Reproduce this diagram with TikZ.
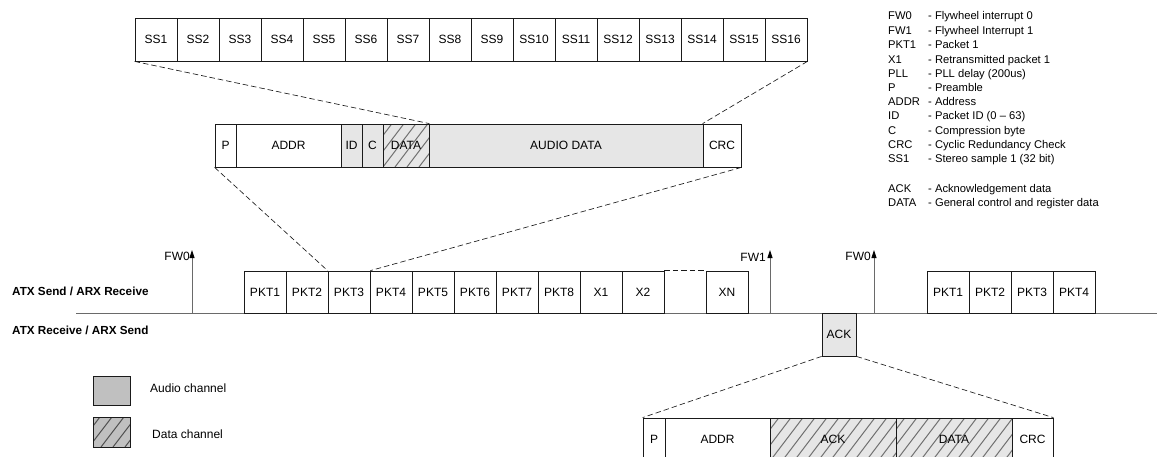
\documentclass[tikz,border=0pt]{standalone}
\usepackage{fontspec}
\setmainfont{Liberation Sans}
\usetikzlibrary{arrows.meta}
\definecolor{audiofill}{HTML}{E6E6E6}
\definecolor{legaudio}{HTML}{C0C0C0}
\definecolor{hatchcol}{HTML}{707070}
\definecolor{leghatch}{HTML}{505050}
\definecolor{linecol}{HTML}{1A1A1A}
\definecolor{basecol}{HTML}{6A6A6A}
\newcommand{\boxfs}{\fontsize{12}{14}\selectfont}
\newcommand{\legfs}{\fontsize{11.2}{13}\selectfont}
\newcommand{\rowfs}{\fontsize{11.7}{14}\selectfont\bfseries}
\begin{document}
\begin{tikzpicture}[x=1pt,y=-1pt,
  cell/.style={draw=linecol, line width=0.8pt, inner sep=0pt, minimum height=43pt, font=\boxfs},
  pkt/.style={cell, minimum width=42pt, minimum height=42pt},
  audio/.style={fill=audiofill},
  hatched/.style={fill=audiofill, path picture={
      \foreach \k in {0,...,22}{
        \draw[hatchcol, line width=1pt]
          ([xshift=\k*12pt-60pt]path picture bounding box.south west) -- ++(38,-50);}}},
  leghatched/.style={fill=legaudio, path picture={
      \foreach \k in {0,...,8}{
        \draw[leghatch, line width=1pt]
          ([xshift=\k*12pt-40pt]path picture bounding box.south west) -- ++(26,-34);}}},
  conn/.style={draw=linecol, line width=0.65pt, dash pattern=on 5.5pt off 3pt},
  fwarrow/.style={draw=basecol, line width=0.9pt, -{Triangle[length=8pt,width=5pt,color=black]}},
  legtxt/.style={anchor=base west, inner sep=0pt, font=\legfs},
  lbl/.style={inner sep=0pt, font=\boxfs},
]
\clip (0,0) rectangle (1157,456);
\fill[white] (0,0) rectangle (1157,456);

% ---- stereo samples row
\foreach \i in {1,...,16}{
  \node[cell, minimum width=42pt] (ss\i) at ({135+42*(\i-1)+21},39.5) {SS\i};
}

% ---- audio packet frame
\node[cell, minimum width=21pt] (p) at (225.5,145.5) {P};
\node[cell, minimum width=105pt] (addr) at (288.5,145.5) {ADDR};
\node[cell, audio, minimum width=21pt] (id) at (351.5,145.5) {ID};
\node[cell, audio, minimum width=21pt] (c) at (372.5,145.5) {C};
\node[cell, hatched, minimum width=46pt] (data) at (406,145.5) {DATA};
\node[cell, audio, minimum width=274pt] (audiodata) at (566,145.5) {AUDIO DATA};
\node[cell, minimum width=38pt] (crc) at (722,145.5) {CRC};

% ---- timeline
\coordinate (tlstart) at (76,313);
\coordinate (tlend) at (1157,313);
\draw[basecol, line width=0.9pt] (tlstart) -- (tlend);

\foreach \i in {1,...,8}{
  \node[pkt] (pkt\i) at ({244+42*(\i-1)+21},292) {PKT\i};
}
\node[pkt] (x1) at (601,292) {X1};
\node[pkt] (x2) at (643,292) {X2};
\node[pkt] (xn) at (727,292) {XN};
\draw[conn, line width=0.9pt] (x2.north east) -- (xn.north west);

\foreach \i in {1,...,4}{
  \node[pkt] (rpkt\i) at ({927+42*(\i-1)+21},292) {PKT\i};
}

% ---- flywheel arrows
\coordinate (fwa0b) at (192,313); \coordinate (fwa0t) at (192,250);
\coordinate (fwa1b) at (770,313); \coordinate (fwa1t) at (770,250);
\coordinate (fwa2b) at (874,313); \coordinate (fwa2t) at (874,250);
\draw[fwarrow] (fwa0b) -- (fwa0t);
\draw[fwarrow] (fwa1b) -- (fwa1t);
\draw[fwarrow] (fwa2b) -- (fwa2t);
\node[lbl, anchor=east] (fw0a) at (190,256) {FW0};
\node[lbl, anchor=east] (fw1) at (766,257) {FW1};
\node[lbl, anchor=east] (fw0b) at (871,256) {FW0};

% ---- ACK slot
\node[cell, audio, minimum width=34pt, minimum height=43pt] (ack) at (839,334.5) {ACK};

% ---- ack packet frame
\node[cell, minimum width=22pt] (lp) at (654,439.5) {P};
\node[cell, minimum width=105pt] (laddr) at (717.5,439.5) {ADDR};
\node[cell, hatched, minimum width=126pt] (lack) at (833,439.5) {ACK};
\node[cell, hatched, minimum width=116pt] (ldata) at (954,439.5) {DATA};
\node[cell, minimum width=41pt] (lcrc) at (1032.5,439.5) {CRC};

% ---- zoom connectors
\draw[conn] (ss1.south west) -- (data.north east);
\draw[conn] (ss16.south east) -- (crc.north west);
\draw[conn] (p.south west) -- (pkt3.north west);
\draw[conn] (crc.south east) -- (pkt3.north east);
\draw[conn] (ack.south west) -- (lp.north west);
\draw[conn] (ack.south east) -- (lcrc.north east);

% ---- row labels
\node[anchor=west, inner sep=0pt, font=\rowfs] (row1) at (12,291) {ATX Send / ARX Receive};
\node[anchor=west, inner sep=0pt, font=\rowfs] (row2) at (12,330) {ATX Receive / ARX Send};

% ---- channel legend
\node[draw=linecol, line width=0.7pt, fill=legaudio, minimum width=37pt, minimum height=29pt, inner sep=0pt] (legA) at (111.5,390.5) {};
\node[draw=linecol, line width=0.7pt, leghatched, minimum width=37pt, minimum height=30pt, inner sep=0pt] (legD) at (111.5,432) {};
\node[lbl, anchor=west] (legAt) at (150,388) {Audio channel};
\node[lbl, anchor=west] (legDt) at (152,434) {Data channel};

% ---- abbreviation legend
\node[legtxt] (a1) at (888,19) {FW0};   \node[legtxt] (b1) at (928,19) {- Flywheel interrupt 0};
\node[legtxt] (a2) at (888,34) {FW1};   \node[legtxt] (b2) at (928,34) {- Flywheel Interrupt 1};
\node[legtxt] (a3) at (888,48) {PKT1};  \node[legtxt] (b3) at (928,48) {- Packet 1};
\node[legtxt] (a4) at (888,63) {X1};    \node[legtxt] (b4) at (928,63) {- Retransmitted packet 1};
\node[legtxt] (a5) at (888,77) {PLL};   \node[legtxt] (b5) at (928,77) {- PLL delay (200us)};
\node[legtxt] (a6) at (888,91) {P};     \node[legtxt] (b6) at (928,91) {- Preamble};
\node[legtxt] (a7) at (888,105) {ADDR}; \node[legtxt] (b7) at (928,105) {- Address};
\node[legtxt] (a8) at (888,119) {ID};   \node[legtxt] (b8) at (928,119) {- Packet ID (0 – 63)};
\node[legtxt] (a9) at (888,134) {C};    \node[legtxt] (b9) at (928,134) {- Compression byte};
\node[legtxt] (a10) at (888,148) {CRC}; \node[legtxt] (b10) at (928,148) {- Cyclic Redundancy Check};
\node[legtxt] (a11) at (888,162) {SS1}; \node[legtxt] (b11) at (928,162) {- Stereo sample 1 (32 bit)};
\node[legtxt] (a12) at (888,192) {ACK}; \node[legtxt] (b12) at (928,192) {- Acknowledgement data};
\node[legtxt] (a13) at (888,206) {DATA};\node[legtxt] (b13) at (928,206) {- General control and register data};
\end{tikzpicture}
\end{document}
